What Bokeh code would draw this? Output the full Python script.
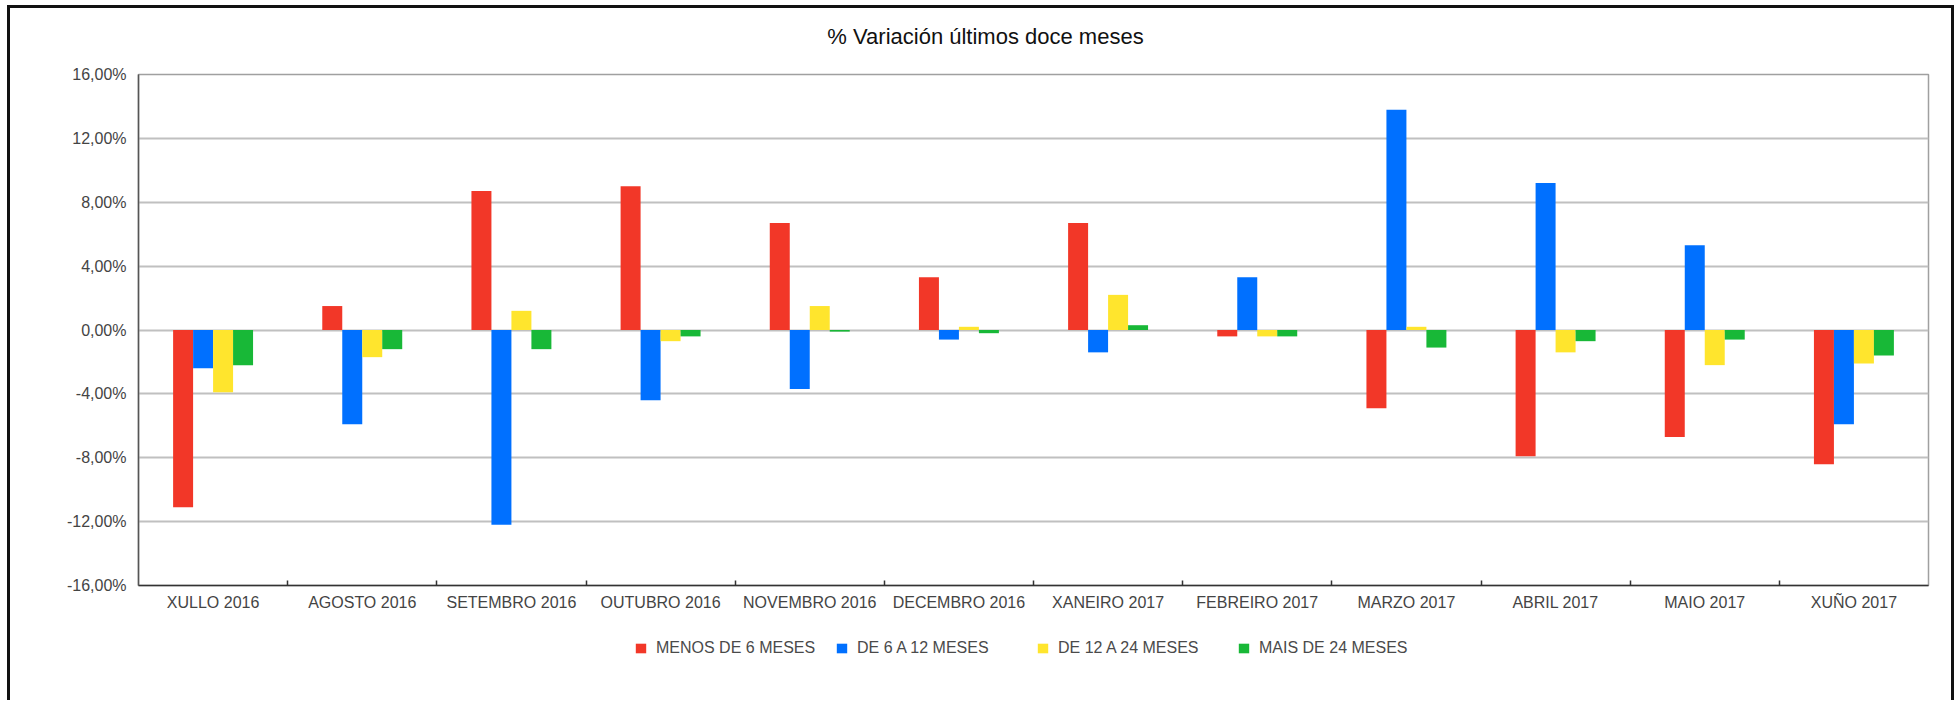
import numpy as np
from bokeh.plotting import figure
from bokeh.layouts import column
from bokeh.models import (ColumnDataSource, Range1d, FixedTicker, Legend, LegendItem, Label)
from bokeh.transform import dodge
from bokeh.embed import file_html
from bokeh.resources import INLINE

# ---- data ----
months = ["XULLO 2016", "AGOSTO 2016", "SETEMBRO 2016", "OUTUBRO 2016", "NOVEMBRO 2016",
          "DECEMBRO 2016", "XANEIRO 2017", "FEBREIRO 2017", "MARZO 2017", "ABRIL 2017",
          "MAIO 2017", "XUÑO 2017"]
series_names = ["MENOS DE 6 MESES", "DE 6 A 12 MESES", "DE 12 A 24 MESES", "MAIS DE 24 MESES"]
menos_6 = [-11.1, 1.5, 8.7, 9.0, 6.7, 3.3, 6.7, -0.4, -4.9, -7.9, -6.7, -8.4]
de_6_12 = [-2.4, -5.9, -12.2, -4.4, -3.7, -0.6, -1.4, 3.3, 13.8, 9.2, 5.3, -5.9]
de_12_24 = [-3.9, -1.7, 1.2, -0.7, 1.5, 0.2, 2.2, -0.4, 0.2, -1.4, -2.2, -2.1]
mais_24 = [-2.2, -1.2, -1.2, -0.4, -0.1, -0.2, 0.3, -0.4, -1.1, -0.7, -0.6, -1.6]
y_ticks = [-16, -12, -8, -4, 0, 4, 8, 12, 16]
y_tick_labels = ["-16,00%", "-12,00%", "-8,00%", "-4,00%", "0,00%", "4,00%", "8,00%", "12,00%", "16,00%"]
title_text = "% Variación últimos doce meses"

colors = ["#F23728", "#0070FF", "#FFE52D", "#18B837"]
FONT = "Liberation Sans"
BORDER = "3px solid #111"
W = 1947

n = len(months)
centers = list(np.arange(n) + 0.5)
source = ColumnDataSource(data=dict(x=centers, s0=menos_6, s1=de_6_12, s2=de_12_24, s3=mais_24))
cols = ["s0", "s1", "s2", "s3"]


def strip(height, margin, styles):
    f = figure(width=W, height=height, output_backend="svg", toolbar_location=None,
               x_range=Range1d(0, 1), y_range=Range1d(0, 1),
               x_axis_location=None, y_axis_location=None,
               min_border_left=0, min_border_right=0, min_border_top=0, min_border_bottom=0)
    f.margin = margin
    f.styles = styles
    f.outline_line_color = None
    f.background_fill_color = "white"
    f.border_fill_color = "white"
    f.xgrid.visible = False
    f.ygrid.visible = False
    return f


# ---------------- title strip ----------------
t = strip(55, (5, 0, 0, 7), {"border-top": BORDER, "border-left": BORDER, "border-right": BORDER})
t.add_layout(Label(x=847, y=27, x_units="screen", y_units="screen", text=title_text,
                   text_align="center", text_baseline="middle",
                   text_font=FONT, text_font_size="22px", text_color="#111111"))

# ---------------- main chart ----------------
p = figure(width=W, height=560, output_backend="svg", toolbar_location=None,
           x_range=Range1d(0, n), y_range=Range1d(-16, 16),
           min_border_left=128, min_border_right=29, min_border_top=14, min_border_bottom=35)
p.margin = (0, 0, 0, 7)
p.styles = {"border-left": BORDER, "border-right": BORDER}
p.background_fill_color = "white"
p.border_fill_color = "white"
p.outline_line_color = "#A0A0A0"
p.outline_line_width = 1.5

w = 0.134
offsets = [-1.5 * w, -0.5 * w, 0.5 * w, 1.5 * w]
for i, col in enumerate(cols):
    p.vbar(x=dodge("x", offsets[i], range=p.x_range), top=col, bottom=0, width=w,
           source=source, fill_color=colors[i], line_color=None)

# x axis: labels at centers, small ticks at category boundaries (minor ticks)
xa = p.xaxis[0]
xa.ticker = FixedTicker(ticks=centers, minor_ticks=list(np.arange(1, n)))
xa.major_label_overrides = {float(c): m for c, m in zip(centers, months)}
xa.major_tick_line_color = None
xa.major_tick_in = 0
xa.major_tick_out = 0
xa.minor_tick_in = 5
xa.minor_tick_out = 0
xa.minor_tick_line_color = "#333333"
xa.minor_tick_line_width = 1.5
xa.axis_line_color = "#333333"
xa.axis_line_width = 1.5
xa.major_label_text_font = FONT
xa.major_label_text_font_size = "16px"
xa.major_label_text_color = "#444444"
xa.major_label_standoff = 8

ya = p.yaxis[0]
ya.ticker = FixedTicker(ticks=y_ticks)
ya.major_label_overrides = {t_: l for t_, l in zip(y_ticks, y_tick_labels)}
ya.major_tick_line_color = None
ya.minor_tick_line_color = None
ya.axis_line_color = "#555555"
ya.axis_line_width = 1.5
ya.major_label_text_font = FONT
ya.major_label_text_font_size = "16px"
ya.major_label_text_color = "#444444"
ya.major_label_standoff = 6

p.xgrid.visible = False
p.ygrid.ticker = FixedTicker(ticks=y_ticks)
p.ygrid.grid_line_color = "#C0C0C0"
p.ygrid.grid_line_width = 2

# ---------------- legend strip ----------------
q = strip(80, (0, 0, 0, 7), {"border-left": BORDER, "border-right": BORDER})
legend_renderers = [q.vbar(x="x", top=col, width=w, source=source, fill_color=colors[i],
                           line_color=None, visible=False) for i, col in enumerate(cols)]

legend = Legend(items=[LegendItem(label=nm, renderers=[r]) for nm, r in zip(series_names, legend_renderers)],
                orientation="horizontal", location=(496, 43),
                glyph_width=13, glyph_height=12, label_standoff=9, label_width=170,
                spacing=9, padding=6, margin=0,
                label_text_font=FONT, label_text_font_size="16px", label_text_color="#4A4A4A",
                border_line_color=None, background_fill_alpha=0)
q.add_layout(legend)

layout = column(t, p, q, spacing=0)
open("out.html", "w").write(file_html(layout, INLINE))
